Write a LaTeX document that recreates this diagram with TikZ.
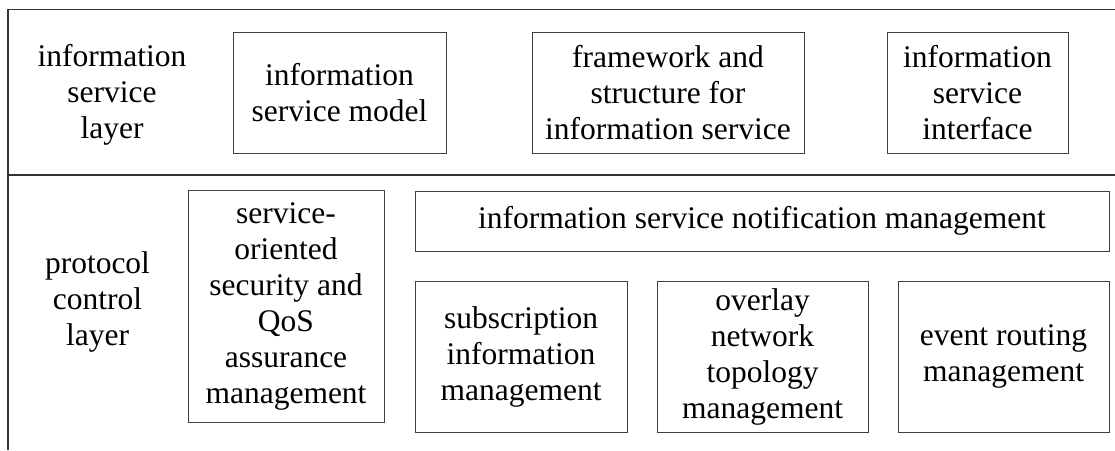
\documentclass[tikz,border=0pt]{standalone}
\usepackage{fontspec}
\setmainfont{Liberation Serif}
\begin{document}
\begin{tikzpicture}[x=1pt,y=-1pt,
  frame/.style={draw=black!80,line width=1.1pt},
  boxnode/.style={draw=black!75,line width=0.9pt,rectangle,inner sep=0pt,align=center,
    font=\fontsize{31.5}{36}\selectfont},
  labelnode/.style={inner sep=0pt,align=center,font=\fontsize{31.5}{36}\selectfont}]
\useasboundingbox (0,0) rectangle (1115,450);
% frame
\coordinate (tr) at (1115,9.5);
\coordinate (tl) at (8,9.5);
\coordinate (bl) at (8,450);
\coordinate (ml) at (8,175);
\coordinate (mr) at (1115,175);
\draw[frame] (tr) -- (tl) -- (bl);
\draw[frame] (ml) -- (mr);
% layer labels
\node[labelnode] (isl) at (112,95) {information\\service\\layer};
\node[labelnode] (pcl) at (97.5,302) {protocol\\control\\layer};
% information service layer boxes
\node[boxnode,minimum width=213pt,minimum height=121pt] (ism) at (339.5,92.5) {information\\service model};
\node[boxnode,minimum width=272pt,minimum height=121pt] (fsis) at (668,92.5) {framework and\\structure for\\information service};
\node[boxnode,minimum width=181pt,minimum height=121pt] (isi) at (977.5,92.5) {information\\service\\interface};
% protocol control layer boxes
\node[boxnode,minimum width=196pt,minimum height=232pt] (soq) at (286,306) {service-\\oriented\\security and\\QoS\\assurance\\management};
\node[boxnode,minimum width=694pt,minimum height=60pt] (isnm) at (762,221) {information service notification management};
\node[boxnode,minimum width=212pt,minimum height=151pt] (sim) at (521,356.5) {subscription\\information\\management};
\node[boxnode,minimum width=211pt,minimum height=151pt] (ontm) at (762.5,356.5) {overlay\\network\\topology\\management};
\node[boxnode,minimum width=211pt,minimum height=151pt] (erm) at (1003.5,356.5) {event routing\\management};
\end{tikzpicture}
\end{document}
